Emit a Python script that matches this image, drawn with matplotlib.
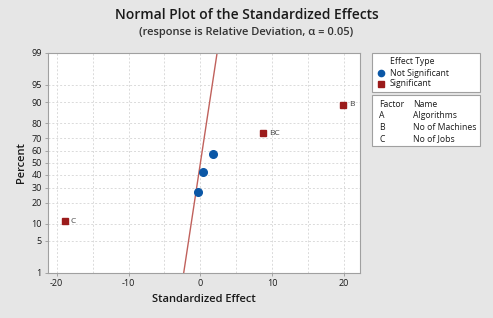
import matplotlib.pyplot as plt
import numpy as np
from statistics import NormalDist

# standardized effects
effect_names = ['C', '', '', '', 'BC', 'B']
effect_values = [-18.85, -0.3, 0.3, 1.7, 8.75, 19.9]
significant = [True, False, False, False, True, True]
percent_values = [10.9, 26.6, 42.2, 57.8, 73.4, 89.1]

y_tick_percents = [1, 5, 10, 20, 30, 40, 50, 60, 70, 80, 90, 95, 99]
x_ticks = [-20, -10, 0, 10, 20]
x_grid = [-20, -15, -10, -5, 0, 5, 10, 15, 20]

factor_codes = ['A', 'B', 'C']
factor_names = ['Algorithms', 'No of Machines', 'No of Jobs']

BG = '#E6E6E6'
BLUE = '#0B57A6'
RED = '#9B1B1B'
LINE_RED = '#C0615C'
GRID = '#DADADA'
TEXT = '#1A1A1A'

plt.rcParams['font.family'] = ['Open Sans', 'DejaVu Sans']

nd = NormalDist()


def z(p):
    return nd.inv_cdf(p / 100.0)


fig = plt.figure(figsize=(4.93, 3.18), dpi=100, facecolor=BG)
W, H = 493, 318
ax = fig.add_axes([48 / W, 1 - 273 / H, (360 - 48) / W, (273 - 52.7) / H])
ax.set_facecolor('white')

zmax = z(99)
ax.set_ylim(-zmax, zmax)
ax.set_xlim(-21.2, 22.2)

for gx in x_grid:
    ax.axvline(gx, color=GRID, lw=0.7, ls=(0, (2, 2)), zorder=0)
for p in y_tick_percents[1:-1]:
    ax.axhline(z(p), color=GRID, lw=0.7, ls=(0, (2, 2)), zorder=0)

# reference line, sigma = 1
zz = np.array([-zmax, zmax])
ax.plot(zz, zz, color=LINE_RED, lw=1.0, zorder=2)

for name, xv, pv, sig in zip(effect_names, effect_values, percent_values, significant):
    if sig:
        ax.plot(xv, z(pv), marker='s', ms=5, color=RED, ls='none', zorder=3)
        ax.annotate(name, (xv, z(pv)), xytext=(4, 0), textcoords='offset points',
                    va='center', ha='left', fontsize=6, color='#444444')
    else:
        ax.plot(xv, z(pv), marker='o', ms=5.5, color=BLUE, ls='none', zorder=3)

ax.set_yticks([z(p) for p in y_tick_percents])
ax.set_yticklabels([str(p) for p in y_tick_percents])
ax.set_xticks(x_ticks)
ax.set_xticklabels([str(t) for t in x_ticks])
ax.tick_params(labelsize=6.5, length=2.5, width=0.6, color='#999999', labelcolor=TEXT, pad=2)
for s in ax.spines.values():
    s.set_color('#A0A0A0')
    s.set_linewidth(0.8)

ax.set_xlabel('Standardized Effect', fontsize=8, fontweight='semibold', color=TEXT, labelpad=4)
ax.set_ylabel('Percent', fontsize=8, fontweight='semibold', color=TEXT, labelpad=3)

fig.text(246.5 / W, 1 - 15 / H, 'Normal Plot of the Standardized Effects', ha='center', va='center',
         fontsize=10, fontweight='semibold', color=TEXT)
fig.text(246.5 / W, 1 - 32 / H, '(response is Relative Deviation, \u03b1 = 0.05)', ha='center', va='center',
         fontsize=8, fontweight='semibold', color='#333333')

# legend boxes
def box(x0, y0, x1, y1):
    r = plt.Rectangle((x0 / W, 1 - y1 / H), (x1 - x0) / W, (y1 - y0) / H, transform=fig.transFigure,
                      facecolor='white', edgecolor='#A0A0A0', lw=0.8)
    fig.add_artist(r)


box(371.7, 52.7, 480, 91.7)
fig.text(390 / W, 1 - 62 / H, 'Effect Type', fontsize=6.2, va='center', color=TEXT)
fig.text(390 / W, 1 - 73 / H, 'Not Significant', fontsize=6.2, va='center', color=TEXT)
fig.text(390 / W, 1 - 84 / H, 'Significant', fontsize=6.2, va='center', color=TEXT)
fig.add_artist(plt.Line2D([380.5 / W], [1 - 73 / H], marker='o', ms=4.5, color=BLUE, transform=fig.transFigure))
fig.add_artist(plt.Line2D([380.5 / W], [1 - 84 / H], marker='s', ms=4, color=RED, transform=fig.transFigure))

box(371.7, 95, 480, 146)
fig.text(379 / W, 1 - 104.5 / H, 'Factor', fontsize=6.2, va='center', color=TEXT)
fig.text(413 / W, 1 - 104.5 / H, 'Name', fontsize=6.2, va='center', color=TEXT)
for i, (code, name) in enumerate(zip(factor_codes, factor_names)):
    yy = 116 + i * 11.5
    fig.text(379 / W, 1 - yy / H, code, fontsize=6.2, va='center', color=TEXT)
    fig.text(413 / W, 1 - yy / H, name, fontsize=6.2, va='center', color=TEXT)

fig.savefig('out.png', dpi=100, facecolor=BG)
